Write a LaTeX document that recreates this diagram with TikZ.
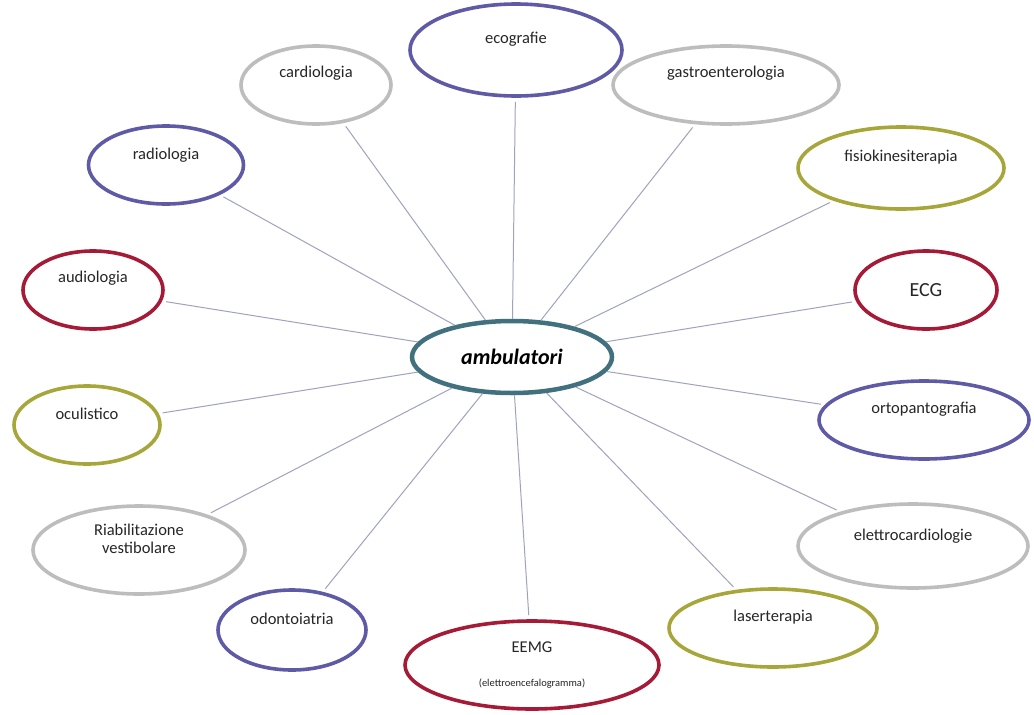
\documentclass[tikz,border=0pt]{standalone}
\usepackage{fontspec}
\setmainfont{Carlito}
\usetikzlibrary{shapes.geometric}
\definecolor{cpurple}{HTML}{5E5AA6}
\definecolor{cgray}{HTML}{BDBDBD}
\definecolor{colive}{HTML}{A6A63A}
\definecolor{cred}{HTML}{A51A36}
\definecolor{cteal}{HTML}{41707F}
\definecolor{cline}{HTML}{A0A3BC}
\tikzset{
  bubble/.style={ellipse, draw, line width=3.6pt, inner sep=0pt, align=center,
    font=\fontsize{16.5}{18.5}\selectfont, text=black!85},
  hub/.style={ellipse, draw=cteal, line width=4.5pt, inner sep=0pt,
    minimum width=200pt, minimum height=72pt,
    font=\fontsize{22}{24}\selectfont\bfseries\itshape},
  spoke/.style={draw=cline, line width=1pt}
}
\begin{document}
\begin{tikzpicture}[x=1pt,y=-1pt]
\useasboundingbox (0,0) rectangle (1034,715);
\fill[white] (0,0) rectangle (1034,715);

\node[hub] (amb) at (512,357) {ambulatori};

\node[bubble, draw=cpurple, minimum width=212pt, minimum height=92pt] (eco) at (516,50) {ecografie\\[6pt]};
\node[bubble, draw=cgray, minimum width=150pt, minimum height=78pt] (card) at (316,85) {cardiologia\\[8pt]};
\node[bubble, draw=cgray, minimum width=226pt, minimum height=78pt] (gastro) at (726,85) {gastroenterologia\\[8pt]};
\node[bubble, draw=cpurple, minimum width=155pt, minimum height=78pt] (radio) at (166,165) {radiologia\\[4pt]};
\node[bubble, draw=colive, minimum width=206pt, minimum height=82pt] (fisio) at (901,168) {fisiokinesiterapia\\[6pt]};
\node[bubble, draw=cred, minimum width=140pt, minimum height=78pt] (audio) at (93,290) {audiologia\\[8pt]};
\node[bubble, draw=cred, minimum width=142pt, minimum height=78pt] (ecg) at (926,290) {\fontsize{20}{22}\selectfont ECG};
\node[bubble, draw=colive, minimum width=146pt, minimum height=78pt] (ocul) at (87,425) {oculistico\\[4pt]};
\node[bubble, draw=cpurple, minimum width=210pt, minimum height=78pt] (orto) at (924,420) {ortopantografia\\[6pt]};
\node[bubble, draw=cgray, minimum width=212pt, minimum height=88pt] (riab) at (139,550) {Riabilitazione\\vestibolare\\[4pt]};
\node[bubble, draw=cgray, minimum width=230pt, minimum height=84pt] (elettro) at (913,546) {elettrocardiologie\\[4pt]};
\node[bubble, draw=cpurple, minimum width=148pt, minimum height=80pt] (odonto) at (292,630) {odontoiatria\\[4pt]};
\node[bubble, draw=colive, minimum width=208pt, minimum height=78pt] (laser) at (773,628) {laserterapia\\[6pt]};
\node[bubble, draw=cred, minimum width=254pt, minimum height=88pt] (eemg) at (532,665)
  {EEMG\\[16pt]{\fontsize{10.5}{12}\selectfont(elettroencefalogramma)}};

\foreach \n in {eco,card,gastro,radio,fisio,audio,ecg,ocul,orto,riab,elettro,odonto,laser,eemg}
  \draw[spoke, shorten >=4pt] (amb) -- (\n);
\end{tikzpicture}
\end{document}
